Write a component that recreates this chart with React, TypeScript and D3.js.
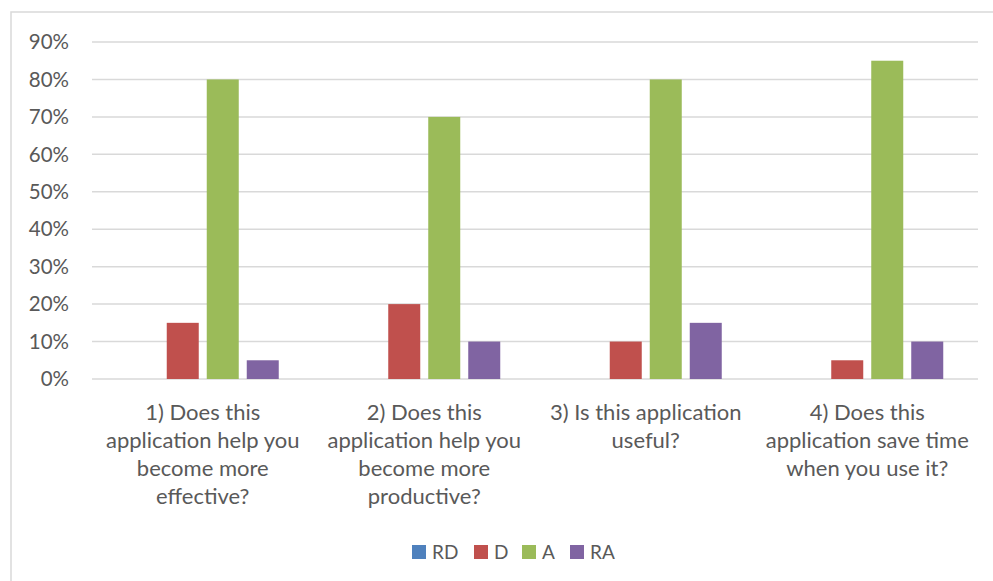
import React from "react";
import * as d3 from "d3";

const categories: string[][] = [
  ["1) Does this", "application help you", "become more", "effective?"],
  ["2) Does this", "application help you", "become more", "productive?"],
  ["3) Is this application", "useful?"],
  ["4) Does this", "application save time", "when you use it?"],
];
const seriesNames = ["RD", "D", "A", "RA"];
const seriesColors = ["#4f81bd", "#c0504d", "#9bbb59", "#8064a2"];
const valuesRD = [0, 0, 0, 0];
const valuesD = [0.15, 0.2, 0.1, 0.05];
const valuesA = [0.8, 0.7, 0.8, 0.85];
const valuesRA = [0.05, 0.1, 0.15, 0.1];
const yTicks = [0, 0.1, 0.2, 0.3, 0.4, 0.5, 0.6, 0.7, 0.8, 0.9];

const series = [valuesRD, valuesD, valuesA, valuesRA];

const W = 993;
const H = 581;
const FONT = "Lato, 'Open Sans', sans-serif";
const TEXT = "#595959";

export default function App() {
  const x = d3
    .scaleBand<number>()
    .domain(categories.map((_, i) => i))
    .range([92, 978])
    .padding(0);
  const groupW = 152;
  const inner = d3
    .scaleBand<number>()
    .domain(seriesNames.map((_, i) => i))
    .range([0, groupW])
    .paddingInner(0.2)
    .paddingOuter(0);
  const y = d3.scaleLinear().domain([0, 0.9]).range([379, 42]);
  const fmt = d3.format(".0%");

  const legendX = [412, 474, 522, 570];

  return (
    <svg
      width={W}
      height={H}
      style={{ position: "absolute", left: 0, top: 0, background: "#fff" }}
      fontFamily={FONT}
    >
      <rect x={11} y={12} width={W + 20} height={H + 20} fill="#fff" stroke="#d9d9d9" strokeWidth={1.5} />
      {yTicks.map((t) => (
        <g key={t}>
          <line x1={92} x2={978} y1={y(t)} y2={y(t)} stroke="#d9d9d9" strokeWidth={1.5} />
          <text x={69} y={y(t)} dy="0.35em" textAnchor="end" fontSize={20.5} fill={TEXT}>
            {fmt(t)}
          </text>
        </g>
      ))}
      {categories.map((_, ci) => {
        const cx = (x(ci) as number) + x.bandwidth() / 2;
        const gx = cx - groupW / 2;
        return (
          <g key={ci}>
            {series.map((vals, si) =>
              vals[ci] > 0 ? (
                <rect
                  key={si}
                  x={gx + (inner(si) as number)}
                  y={y(vals[ci])}
                  width={inner.bandwidth()}
                  height={y(0) - y(vals[ci])}
                  fill={seriesColors[si]}
                />
              ) : null
            )}
          </g>
        );
      })}
      {categories.map((lines, ci) => {
        const cx = (x(ci) as number) + x.bandwidth() / 2;
        return (
          <text key={ci} textAnchor="middle" fontSize={22} fill={TEXT}>
            {lines.map((l, li) => (
              <tspan key={li} x={cx} y={420 + li * 28}>
                {l}
              </tspan>
            ))}
          </text>
        );
      })}
      {seriesNames.map((n, i) => (
        <g key={n}>
          <rect x={legendX[i]} y={545} width={14} height={14} fill={seriesColors[i]} />
          <text x={legendX[i] + 20} y={559} fontSize={19} fill={TEXT}>
            {n}
          </text>
        </g>
      ))}
    </svg>
  );
}
